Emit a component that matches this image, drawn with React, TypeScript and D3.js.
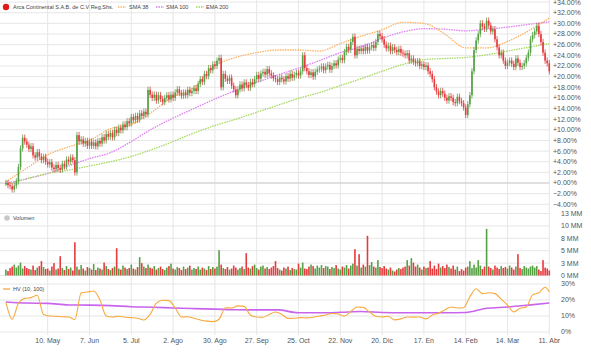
import React from 'react';
import * as d3 from 'd3';

const W = 591;
const H = 354;

// daily closes, % change from the first day
const closes = [
  0.0, -0.4, -0.6, -1.2, -0.5, 0.3, 3.0, 6.5, 8.5, 7.8,
  7.2, 6.4, 6.9, 5.2, 4.8, 5.8, 5.0, 4.3, 4.9, 4.0,
  3.5, 3.9, 2.9, 2.6, 3.4, 2.8, 2.5, 3.6, 3.1, 4.4,
  4.0, 4.8, 4.3, 2.0, 9.0, 7.8, 8.2, 7.4, 7.9, 7.0,
  7.8, 7.0, 7.6, 6.9, 7.9, 7.4, 8.6, 8.0, 9.2, 8.7,
  9.4, 8.6, 10.0, 9.4, 10.4, 9.9, 11.0, 10.5, 11.6, 11.2,
  12.4, 11.8, 12.6, 11.9, 13.1, 12.6, 13.4, 12.9, 17.5, 16.6,
  16.0, 16.6, 15.5, 16.5, 15.8, 15.2, 16.0, 16.5, 15.7, 16.6,
  16.0, 17.0, 17.6, 16.9, 16.4, 17.0, 16.5, 17.5, 16.9, 17.3,
  17.8, 17.3, 18.6, 19.5, 19.0, 20.5, 20.1, 21.6, 21.2, 22.3,
  22.0, 23.0, 23.5, 18.0, 20.5, 19.6, 19.2, 19.8, 18.3, 17.6,
  16.5, 17.6, 18.5, 17.8, 18.9, 18.4, 17.9, 19.0, 18.6, 19.5,
  20.3, 19.6, 20.6, 20.9, 20.4, 21.4, 20.6, 20.2, 19.7, 19.5,
  19.0, 19.8, 19.5, 19.1, 20.1, 19.6, 20.5, 19.8, 20.3, 20.7,
  20.2, 21.0, 24.0, 21.6, 21.0, 20.3, 20.8, 20.0, 20.9, 21.3,
  21.5, 21.9, 21.2, 21.9, 22.2, 21.3, 22.0, 22.5, 22.1, 23.2,
  23.5, 23.1, 24.6, 25.6, 25.0, 26.5, 27.5, 24.0, 25.2, 24.8,
  25.3, 24.8, 25.6, 24.9, 25.5, 25.9, 25.4, 26.5, 28.0, 27.6,
  27.0, 26.0, 25.3, 25.8, 24.8, 25.5, 25.0, 24.6, 25.2, 24.5,
  24.3, 24.0, 24.4, 23.0, 23.4, 22.8, 22.5, 22.9, 22.0, 22.3,
  21.8, 22.1, 21.0, 20.5, 19.5, 18.0, 17.2, 16.5, 17.3, 16.8,
  16.0, 15.5, 16.3, 16.0, 15.2, 15.0, 16.2, 15.4, 15.0, 14.2,
  12.8, 14.8, 16.5, 21.0, 25.0, 26.8, 28.0, 30.0, 29.4, 29.0,
  30.5, 29.6, 28.5, 28.9, 27.0, 25.5, 24.0, 24.5, 23.0, 22.0,
  22.6, 23.0, 22.4, 21.8, 23.4, 22.6, 21.8, 22.0, 22.5, 23.5,
  24.5, 27.0, 27.8, 28.5, 29.5, 28.0, 26.5, 24.5, 23.0, 22.5,
  21.0,
];

// daily volume, millions
const volumes = [
  1.2, 0.9, 1.5, 1.8, 2.2, 1.6, 2.0, 2.6, 1.4, 1.9,
  1.5, 1.3, 1.2, 2.0, 1.1, 1.6, 1.9, 2.9, 1.7, 1.3,
  1.4, 1.0, 1.8, 2.5, 1.2, 1.4, 3.9, 1.5, 1.1, 1.9,
  1.3, 1.6, 1.0, 6.7, 1.8, 1.2, 2.1, 1.4, 1.0, 1.7,
  1.5, 1.2, 2.3, 1.1, 1.6, 1.4, 1.2, 2.6, 1.9, 1.3,
  1.1, 1.5, 1.8, 5.5, 1.4, 1.2, 2.0, 1.6, 1.3, 1.5,
  2.2, 1.4, 1.2, 1.7, 3.7, 2.5, 1.8, 1.5, 2.2, 1.6,
  1.4, 1.9, 1.2, 1.5, 1.8, 1.3, 1.1, 1.6, 1.9, 2.4,
  1.4, 1.2, 1.7, 1.5, 1.1, 1.8, 1.3, 1.6, 2.0, 1.2,
  1.5, 1.3, 1.8, 1.2, 1.6, 1.4, 1.1, 1.9, 1.3, 1.7,
  1.4, 1.8, 5.1, 2.2, 1.5, 1.3, 1.7, 1.2, 1.4, 2.0,
  1.6, 1.2, 1.5, 1.8, 1.3, 4.5, 1.6, 1.4, 1.9, 2.2,
  1.5, 1.2, 1.8, 2.0, 1.4, 1.7, 1.3, 1.6, 1.9, 2.9,
  1.5, 1.2, 1.0, 1.6, 1.4, 1.8, 1.1, 1.5, 1.3, 1.2,
  2.4, 1.6, 2.6, 1.4, 1.3, 1.8, 2.2, 1.9, 1.4, 2.0,
  1.6, 2.1, 1.5, 1.9, 1.8, 1.3, 1.7, 1.5, 2.1, 1.4,
  1.2, 1.8, 1.6, 2.1, 1.4, 2.0, 2.4, 5.3, 2.0, 4.3,
  1.6, 2.2, 1.8, 8.0, 2.1, 2.7, 1.8, 1.6, 3.1, 1.7,
  1.5, 1.9, 1.4, 1.2, 1.6, 1.0, 0.8, 1.2, 1.5, 1.3,
  1.6, 1.8, 3.1, 2.0, 3.5, 2.6, 1.8, 2.2, 1.6, 1.2,
  1.8, 1.5, 1.6, 2.9, 1.4, 2.0, 1.3, 2.4, 1.6, 1.9,
  1.5, 2.2, 1.7, 1.4, 2.0, 1.2, 1.8, 0.9, 1.3, 1.0,
  1.6, 1.8, 2.9, 1.5, 2.2, 1.6, 3.1, 2.0, 1.3, 1.8,
  9.4, 1.8, 1.5, 1.2, 2.0, 1.6, 1.3, 1.9, 1.5, 1.7,
  1.4, 2.0, 1.6, 1.2, 1.8, 4.3, 1.5, 1.3, 1.9, 1.6,
  1.4, 1.8, 2.0, 1.6, 1.9, 1.2, 0.9, 3.1, 1.6, 1.4,
  1.0,
];

// moving averages, one value every 10 trading days
const MA_STEP = 10;
const sma38 = [0.2, 2.8, 5.3, 6.8, 8.0, 10.2, 11.0, 13.4, 16.2, 18.0, 22.0, 23.6, 24.5, 25.0, 25.0, 24.8, 26.2, 27.6, 28.8, 30.2, 30.0, 28.0, 25.4, 25.4, 26.6, 28.6, 31.0];
const sma100 = [0.0, 0.8, 1.8, 3.2, 4.6, 5.7, 7.8, 10.2, 12.2, 14.0, 15.8, 17.4, 18.9, 20.3, 21.6, 23.0, 24.5, 25.6, 27.2, 28.4, 29.0, 28.9, 28.6, 28.9, 29.3, 29.8, 30.3];
const ema200 = [-0.3, 0.8, 1.8, 2.4, 3.2, 4.0, 5.0, 6.3, 7.8, 9.4, 10.8, 12.0, 13.3, 14.6, 15.9, 17.0, 18.3, 19.6, 21.0, 22.3, 23.2, 23.4, 23.6, 24.1, 24.8, 25.5, 26.2];

// historical volatility, HV10 every 3 days, HV100 every 10 days
const HV_STEP = 3;
const hv10 = [
  18.5, 8.0, 18.0, 21.0, 21.5, 23.0, 11.0, 10.0, 9.8, 9.5,
  9.4, 7.8, 24.4, 25.0, 25.6, 20.0, 10.0, 9.4, 9.8, 9.2,
  9.0, 8.6, 7.5, 11.0, 18.0, 19.8, 19.6, 15.0, 9.4, 9.5,
  8.6, 7.5, 6.8, 6.5, 8.0, 15.2, 15.0, 16.3, 16.0, 10.5,
  9.4, 9.2, 11.0, 12.5, 11.0, 8.5, 8.6, 9.0, 8.8, 9.2,
  10.0, 10.6, 11.6, 11.2, 10.0, 12.8, 15.6, 15.4, 12.5, 9.8,
  9.4, 9.8, 7.6, 8.2, 9.4, 9.3, 9.4, 8.2, 10.6, 11.8,
  13.8, 15.6, 15.0, 15.2, 22.0, 27.0, 24.0, 24.5, 24.0, 20.5,
  16.8, 12.5, 14.8, 15.6, 23.2, 24.5, 28.0, 25.0,
];
const hv100 = [18.8, 18.1, 17.9, 16.9, 16.8, 16.5, 15.8, 15.5, 15.0, 14.6, 14.3, 13.9, 13.8, 13.8, 12.0, 12.0, 12.3, 12.8, 12.2, 12.0, 12.0, 12.0, 12.2, 14.8, 15.6, 16.8, 18.1];

const tickDays = [20, 40, 60, 80, 100, 120, 140, 160, 180, 200, 220, 240, 260];
const tickLabels = ['10. May', '7. Jun', '5. Jul', '2. Ago', '30. Ago', '27. Sep', '25. Oct', '22. Nov', '20. Dic', '17. En', '14. Feb', '14. Mar', '11. Abr'];
const priceTicks = [-4, -2, 0, 2, 4, 6, 8, 10, 12, 14, 16, 18, 20, 22, 24, 26, 28, 30, 32, 34];
const volTicks = [0, 2.5, 5, 7.5, 10, 12.5];
const volLabels = ['0 MM', '3 MM', '5 MM', '8 MM', '10 MM', '13 MM'];
const hvTicks = [0, 10, 20, 30];

const GREEN = '#55a045';
const RED = '#e63a3e';
const GRID = '#e6e6e6';
const TXT = '#555';
const FONT = '"Liberation Sans", Arial, sans-serif';
const WICK = 0.6;

export default function App() {
  const last = closes.length - 1;
  const x = d3.scaleLinear().domain([0, last]).range([5.9, 549.3]);
  const yP = d3.scaleLinear().domain([-4, 34]).range([204.3, 2.1]);
  const yV = d3.scaleLinear().domain([0, 12.5]).range([275.5, 213.5]);
  const yH = d3.scaleLinear().domain([0, 30]).range([332, 284]);
  const right = x(last);

  const candles = closes.map((c, i) => {
    const o = i === 0 ? c : closes[i - 1];
    return { i, o, c, up: c >= o };
  });

  const sampled = (arr: number[], step: number) =>
    arr.map((v, k) => ({ i: Math.min(k * step, last), v }));

  const line = (ys: d3.ScaleLinear<number, number>) =>
    d3.line<{ i: number; v: number }>()
      .x(d => x(d.i))
      .y(d => ys(d.v))
      .curve(d3.curveMonotoneX);

  const fmtPct = d3.format('+.2f');

  const maLines = [
    { data: sma38, color: '#fbb363' },
    { data: sma100, color: '#df7ef2' },
    { data: ema200, color: '#a5d85e' },
  ];

  return (
    <svg width={W} height={H} style={{ position: 'absolute', left: 0, top: 0, fontFamily: FONT }}>
      <rect width={W} height={H} fill="#fff" />

      {/* grid */}
      {tickDays.map(d => (
        <line key={'v' + d} x1={x(d)} x2={x(d)} y1={0} y2={335} stroke={GRID} strokeWidth={1} />
      ))}
      {priceTicks.map(t => (
        <line key={'p' + t} x1={0} x2={right} y1={yP(t)} y2={yP(t)} stroke={t === 0 ? '#d6d6d6' : GRID} strokeWidth={t === 0 ? 1.6 : 1} />
      ))}
      {volTicks.map(t => (
        <line key={'vg' + t} x1={0} x2={right} y1={yV(t)} y2={yV(t)} stroke={GRID} />
      ))}
      {hvTicks.map(t => (
        <line key={'hg' + t} x1={0} x2={right} y1={yH(t)} y2={yH(t)} stroke={GRID} />
      ))}

      {/* moving averages */}
      {maLines.map((m, k) => (
        <path key={'ma' + k} d={line(yP)(sampled(m.data, MA_STEP)) || ''} fill="none"
          stroke={m.color} strokeWidth={1.3} strokeDasharray="1.5,1" />
      ))}

      {/* candles */}
      {candles.map(d => {
        const hi = Math.max(d.o, d.c) + WICK;
        const lo = Math.min(d.o, d.c) - WICK;
        const top = yP(Math.max(d.o, d.c));
        const bh = Math.max(1, Math.abs(yP(d.o) - yP(d.c)));
        const col = d.up ? GREEN : RED;
        return (
          <g key={'c' + d.i}>
            <line x1={x(d.i)} x2={x(d.i)} y1={yP(hi)} y2={yP(lo)} stroke={col} strokeWidth={0.8} />
            <rect x={x(d.i) - 0.8} y={top} width={1.6} height={bh} fill={col} />
          </g>
        );
      })}

      {/* volume */}
      {volumes.map((v, i) => (
        <rect key={'vol' + i} x={x(i) - 0.8} y={yV(v)} width={1.6} height={yV(0) - yV(v)}
          fill={candles[i].up ? GREEN : RED} />
      ))}

      {/* HV */}
      <path d={line(yH)(sampled(hv100, MA_STEP)) || ''} fill="none" stroke="#c964ec" strokeWidth={1.6} />
      <path d={line(yH)(sampled(hv10, HV_STEP)) || ''} fill="none" stroke="#f8a93c" strokeWidth={1.1} />

      {/* right axes */}
      {priceTicks.map(t => (
        <text key={'pl' + t} x={553} y={yP(t)} dy="0.35em" fontSize={7} fill={TXT}>{fmtPct(t)}%</text>
      ))}
      {volTicks.map((t, k) => (
        <text key={'vl' + t} x={561} y={yV(t)} dy="0.35em" fontSize={7} fill={TXT}>{volLabels[k]}</text>
      ))}
      {hvTicks.map(t => (
        <text key={'hl' + t} x={561} y={yH(t)} dy="0.35em" fontSize={7} fill={TXT}>{t}%</text>
      ))}

      {/* bottom axis */}
      {tickDays.map((d, k) => (
        <text key={'xl' + d} x={x(d)} y={341} dy="0.35em" textAnchor="middle" fontSize={7} fill={TXT}>{tickLabels[k]}</text>
      ))}

      {/* legends */}
      <circle cx={6} cy={7} r={3.2} fill="#e3191c" />
      <text x={13} y={7} dy="0.35em" fontSize={5.5} fill="#444">Arca Continental S.A.B. de C.V Reg.Shs.</text>
      <line x1={118} x2={126} y1={7} y2={7} stroke="#fbb363" strokeWidth={1.3} strokeDasharray="1.5,1" />
      <text x={129} y={7} dy="0.35em" fontSize={5.5} fill="#444">SMA 38</text>
      <line x1={156} x2={164} y1={7} y2={7} stroke="#df7ef2" strokeWidth={1.3} strokeDasharray="1.5,1" />
      <text x={166} y={7} dy="0.35em" fontSize={5.5} fill="#444">SMA 100</text>
      <line x1={196} x2={204} y1={7} y2={7} stroke="#a5d85e" strokeWidth={1.3} strokeDasharray="1.5,1" />
      <text x={206} y={7} dy="0.35em" fontSize={5.5} fill="#444">EMA 200</text>

      <circle cx={7} cy={218} r={2.8} fill="#c8c8c8" />
      <text x={13} y={218} dy="0.35em" fontSize={5.5} fill="#444">Volumen</text>

      <line x1={3} x2={10} y1={289} y2={289} stroke="#f8a93c" strokeWidth={1.3} />
      <text x={13} y={289} dy="0.35em" fontSize={5.5} fill="#444">HV (10, 100)</text>
    </svg>
  );
}
